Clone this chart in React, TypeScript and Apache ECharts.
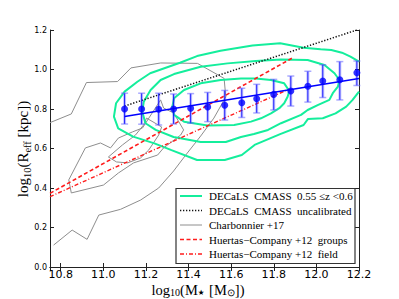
import React, { useEffect, useRef } from 'react';
import * as echarts from 'echarts';

// ---- axis ranges / ticks ----
const X_MIN = 10.75;
const X_MAX = 12.2;
const X_STEP = 0.2;
const Y_MIN = 0.0;
const Y_MAX = 1.2;
const Y_STEP = 0.2;

// ---- legend names ----
const NAME_DECALS = 'DECaLS  CMASS  0.55 ≤z <0.6';
const NAME_UNCAL = 'DECaLS  CMASS  uncalibrated';
const NAME_CHARB = 'Charbonnier +17';
const NAME_GROUPS = 'Huertas−Company +12  groups';
const NAME_FIELD = 'Huertas−Company +12  field';

// ---- binned median sizes (blue points) ----
const massBins = [11.10, 11.18, 11.26, 11.33, 11.41, 11.49, 11.57, 11.65, 11.72, 11.80, 11.88, 11.96, 12.03, 12.11, 12.19];
const sizeMedian = [0.800, 0.800, 0.799, 0.800, 0.804, 0.810, 0.819, 0.832, 0.852, 0.874, 0.891, 0.915, 0.942, 0.948, 0.984];
const sizeErrLow = [0.724, 0.723, 0.719, 0.724, 0.728, 0.736, 0.744, 0.757, 0.780, 0.795, 0.815, 0.835, 0.858, 0.846, 0.919];
const sizeErrHigh = [0.880, 0.880, 0.880, 0.876, 0.878, 0.884, 0.894, 0.905, 0.925, 0.950, 0.967, 0.991, 1.024, 1.040, 1.043];

// ---- straight relations ----
const fitX = [11.10, 12.20];
const fitY = [0.762, 0.954];
const uncalX = [11.10, 12.19];
const uncalY = [0.815, 1.20];
const groupsX = [10.75, 11.89];
const groupsY = [0.373, 1.06];
const fieldX = [10.75, 11.87];
const fieldY = [0.356, 0.90];

// ---- DECaLS density contours ----
const decalsOuter: number[][] = [
  [12.20, 1.040], [12.16, 1.065], [12.12, 1.085], [12.07, 1.099], [12.02, 1.102], [11.94, 1.110],
  [11.83, 1.133], [11.70, 1.122], [11.55, 1.095], [11.44, 1.068], [11.36, 1.034], [11.22, 0.981],
  [11.16, 0.938], [11.10, 0.888], [11.06, 0.829], [11.05, 0.761], [11.07, 0.702], [11.14, 0.660],
  [11.24, 0.626], [11.32, 0.592], [11.44, 0.542], [11.57, 0.542], [11.65, 0.567], [11.71, 0.618],
  [11.83, 0.673], [11.94, 0.719], [11.96, 0.749], [12.03, 0.753], [12.09, 0.778], [12.14, 0.812],
  [12.17, 0.846], [12.20, 0.888],
];
const decalsMiddle: number[][] = [
  [11.190, 0.837], [11.222, 0.896], [11.269, 0.947], [11.332, 0.977], [11.457, 1.014], [11.583, 1.031],
  [11.716, 1.043], [11.834, 1.051], [11.959, 1.048], [12.038, 1.023], [12.085, 0.981], [12.108, 0.947],
  [12.101, 0.913], [12.077, 0.880], [12.061, 0.846], [12.006, 0.820], [11.959, 0.795], [11.928, 0.770],
  [11.834, 0.728], [11.773, 0.694], [11.707, 0.673], [11.646, 0.658], [11.575, 0.633], [11.457, 0.633],
  [11.330, 0.658], [11.246, 0.694], [11.198, 0.728], [11.183, 0.786], [11.190, 0.837],
];
const decalsInner: number[][] = [
  [11.332, 0.854], [11.379, 0.896], [11.457, 0.930], [11.551, 0.947], [11.646, 0.955], [11.716, 0.955],
  [11.787, 0.947], [11.849, 0.930], [11.873, 0.891], [11.865, 0.862], [11.849, 0.829], [11.826, 0.804],
  [11.787, 0.778], [11.740, 0.753], [11.693, 0.736], [11.614, 0.719], [11.489, 0.716], [11.379, 0.736],
  [11.332, 0.770], [11.324, 0.812], [11.332, 0.854],
];

// ---- Charbonnier+17 contours ----
const charbOuter: number[][] = [
  [10.767, 0.111], [10.854, 0.187], [10.924, 0.140], [10.979, 0.263], [11.081, 0.292], [11.175, 0.339],
  [11.260, 0.400], [11.330, 0.486], [11.387, 0.567], [11.457, 0.663], [11.519, 0.754], [11.575, 0.861],
  [11.567, 0.955], [11.442, 1.031], [11.269, 1.033], [11.130, 1.008], [11.067, 0.939], [10.921, 0.934],
  [10.850, 0.775], [10.750, 0.731],
];
const charbMiddle: number[][] = [
  [10.850, 0.375], [10.838, 0.441], [10.916, 0.603], [10.987, 0.628], [11.034, 0.603], [11.071, 0.653],
  [11.137, 0.684], [11.184, 0.704], [11.269, 0.846], [11.283, 0.805], [11.330, 0.780], [11.377, 0.694],
  [11.363, 0.668], [11.283, 0.603], [11.255, 0.567], [11.142, 0.527], [11.071, 0.476], [11.001, 0.415],
  [10.850, 0.375],
];
const charbInner: number[][] = [
  [11.024, 0.557], [11.062, 0.532], [11.114, 0.527], [11.175, 0.552], [11.213, 0.592], [11.260, 0.668],
  [11.274, 0.709], [11.203, 0.754], [11.189, 0.719], [11.151, 0.668], [11.090, 0.618], [11.024, 0.557],
];

const GREEN = '#14ee9c';
const GREY = '#8e8e8e';
const RED = '#ff1c1c';
const BLUE = '#0000ff';
const DOT_DASH = [1.3, 1.7];
const GROUPS_DASH = [4, 2.5];
const FIELD_DASH = [4, 2, 1, 2];

const pairs = (xs: number[], ys: number[]) => xs.map((x, i) => [x, ys[i]]);

const lineSeries = (name: string, data: number[][], color: string, width: number, type: any, z = 2) => ({
  type: 'line',
  name,
  data,
  symbol: 'none',
  showSymbol: false,
  smooth: false,
  clip: true,
  z,
  lineStyle: { color, width, type },
  itemStyle: { color },
  emphasis: { disabled: true },
  silent: true,
});

const isOnStep = (v: number, step: number) => Math.abs(v / step - Math.round(v / step)) < 1e-6;

const xTitleRich = {
  m: { fontFamily: 'Liberation Serif', fontSize: 14.5, fill: '#000', color: '#000' },
  s: { fontFamily: 'Liberation Serif', fontSize: 10, fill: '#000', color: '#000', padding: [5, 0, 0, 0] },
  st: { fontFamily: 'DejaVu Sans', fontSize: 7.5, fill: '#000', color: '#000', padding: [5, 1, 0, 0] },
};
const yTitleRich = {
  m: { fontFamily: 'Liberation Serif', fontSize: 15, fill: '#000', color: '#000' },
  s: { fontFamily: 'Liberation Serif', fontSize: 10.5, fill: '#000', color: '#000', padding: [8, 0, 0, 0] },
};

// legend layout (box + samples + labels)
const LEG_LEFT = 176;
const LEG_TOP = 188.5;
const LEG_W = 179;
const LEG_H = 75;
const LEG_ROW0 = 196;
const LEG_ROW_STEP = 14.5;
const legendItems = [
  { name: NAME_DECALS, stroke: GREEN, width: 2, dash: null as any },
  { name: NAME_UNCAL, stroke: '#111', width: 1.5, dash: DOT_DASH },
  { name: NAME_CHARB, stroke: GREY, width: 1, dash: null as any },
  { name: NAME_GROUPS, stroke: RED, width: 1.6, dash: GROUPS_DASH },
  { name: NAME_FIELD, stroke: RED, width: 1.4, dash: FIELD_DASH },
];

export default function App() {
  const ref = useRef<HTMLDivElement>(null);

  useEffect(() => {
    const chart = echarts.init(ref.current as HTMLDivElement, undefined, { renderer: 'svg' });

    const axisLine = { show: true, lineStyle: { color: '#222', width: 1 } };
    const axisTick = { show: true, inside: true, length: 4, lineStyle: { color: '#222', width: 1 } };

    const errData = massBins.map((x, i) => [x, sizeErrLow[i], sizeErrHigh[i]]);

    const legendGraphics: any[] = [
      {
        type: 'rect',
        z: 100,
        silent: true,
        shape: { x: LEG_LEFT, y: LEG_TOP, width: LEG_W, height: LEG_H },
        style: { fill: '#fff', stroke: '#333', lineWidth: 1.2 },
      },
    ];
    legendItems.forEach((it, i) => {
      const y = LEG_ROW0 + i * LEG_ROW_STEP;
      legendGraphics.push({
        type: 'line',
        z: 101,
        silent: true,
        shape: { x1: LEG_LEFT + 4, y1: y, x2: LEG_LEFT + 26, y2: y },
        style: { stroke: it.stroke, lineWidth: it.width, lineDash: it.dash || undefined },
      });
      legendGraphics.push({
        type: 'text',
        z: 101,
        silent: true,
        x: LEG_LEFT + 33,
        y,
        style: {
          text: it.name,
          fill: '#000',
          font: '11px "Liberation Serif"',
          align: 'left',
          verticalAlign: 'middle',
        },
      });
    });

    const option: any = {
      animation: false,
      backgroundColor: '#fff',
      grid: { left: 50, right: 40, top: 30, bottom: 32, containLabel: false, outerBoundsMode: 'none' },
      xAxis: [
        {
          type: 'value',
          min: X_MIN,
          max: X_MAX,
          splitNumber: 7,
          minInterval: X_STEP,
          maxInterval: X_STEP,
          axisLine,
          axisTick,
          splitLine: { show: false },
          axisLabel: {
            fontFamily: 'DejaVu Sans',
            fontSize: 11,
            color: '#000',
            margin: 2,
            formatter: (v: number) => (isOnStep(v, X_STEP) ? v.toFixed(1) : ''),
          },
        },
        {
          type: 'value',
          position: 'top',
          min: X_MIN,
          max: X_MAX,
          splitNumber: 7,
          minInterval: X_STEP,
          maxInterval: X_STEP,
          axisLine,
          axisTick,
          splitLine: { show: false },
          axisLabel: { show: false },
        },
      ],
      yAxis: [
        {
          type: 'value',
          min: Y_MIN,
          max: Y_MAX,
          interval: Y_STEP,
          axisLine,
          axisTick,
          splitLine: { show: false },
          axisLabel: {
            fontFamily: 'DejaVu Sans',
            fontSize: 8,
            color: '#000',
            margin: 3,
            formatter: (v: number) => v.toFixed(1),
          },
        },
        {
          type: 'value',
          position: 'right',
          min: Y_MIN,
          max: Y_MAX,
          interval: Y_STEP,
          axisLine,
          axisTick,
          splitLine: { show: false },
          axisLabel: { show: false },
        },
      ],
      graphic: [
        {
          type: 'text',
          x: 198,
          y: 290,
          silent: true,
          style: {
            text: '{m|log}{s|10}{m|(M}{st|★}{m| [M}{s|⊙}{m|])}',
            rich: xTitleRich,
            align: 'center',
            verticalAlign: 'middle',
          },
        },
        {
          type: 'text',
          x: 23,
          y: 149,
          rotation: Math.PI / 2,
          silent: true,
          style: {
            text: '{m|log}{s|10}{m|(R}{s|eff}{m| [kpc])}',
            rich: yTitleRich,
            align: 'center',
            verticalAlign: 'middle',
          },
        },
        ...legendGraphics,
      ],
      series: [
        lineSeries(NAME_CHARB, charbOuter, GREY, 1, 'solid', 1),
        lineSeries(NAME_CHARB, charbMiddle, GREY, 1, 'solid', 1),
        lineSeries(NAME_CHARB, charbInner, GREY, 1, 'solid', 1),
        lineSeries(NAME_DECALS, decalsOuter, GREEN, 2, 'solid', 2),
        lineSeries(NAME_DECALS, decalsMiddle, GREEN, 2, 'solid', 2),
        lineSeries(NAME_DECALS, decalsInner, GREEN, 2, 'solid', 2),
        lineSeries(NAME_UNCAL, pairs(uncalX, uncalY), '#111', 1.5, DOT_DASH, 3),
        lineSeries(NAME_GROUPS, pairs(groupsX, groupsY), RED, 1.6, GROUPS_DASH, 3),
        lineSeries(NAME_FIELD, pairs(fieldX, fieldY), RED, 1.4, FIELD_DASH, 3),
        {
          type: 'custom',
          name: 'errors',
          z: 4,
          silent: true,
          data: errData,
          encode: { x: 0, y: [1, 2] },
          renderItem: (params: any, api: any) => {
            const x = api.value(0);
            const top = api.coord([x, api.value(2)]);
            const bot = api.coord([x, api.value(1)]);
            const w = 3.5;
            return {
              type: 'group',
              children: [
                { type: 'line', shape: { x1: top[0], y1: top[1], x2: bot[0], y2: bot[1] }, style: { stroke: 'rgba(90,90,255,0.35)', lineWidth: 3 } },
                { type: 'line', shape: { x1: top[0], y1: top[1], x2: bot[0], y2: bot[1] }, style: { stroke: 'rgba(0,0,255,0.85)', lineWidth: 1 } },
                { type: 'line', shape: { x1: top[0] - w, y1: top[1], x2: top[0] + w, y2: top[1] }, style: { stroke: 'rgba(100,100,255,0.55)', lineWidth: 1.5 } },
                { type: 'line', shape: { x1: bot[0] - w, y1: bot[1], x2: bot[0] + w, y2: bot[1] }, style: { stroke: 'rgba(100,100,255,0.55)', lineWidth: 1.5 } },
              ],
            };
          },
        },
        lineSeries('fit', pairs(fitX, fitY), BLUE, 1.5, 'solid', 5),
        {
          type: 'scatter',
          name: 'median',
          z: 6,
          silent: true,
          symbol: 'circle',
          symbolSize: 7,
          itemStyle: { color: BLUE },
          data: pairs(massBins, sizeMedian),
        },
      ],
    };

    chart.setOption(option);
    return () => chart.dispose();
  }, []);

  return (
    <div
      ref={ref}
      style={{ position: 'fixed', left: 0, top: 0, width: 399, height: 299, background: '#fff' }}
    />
  );
}
